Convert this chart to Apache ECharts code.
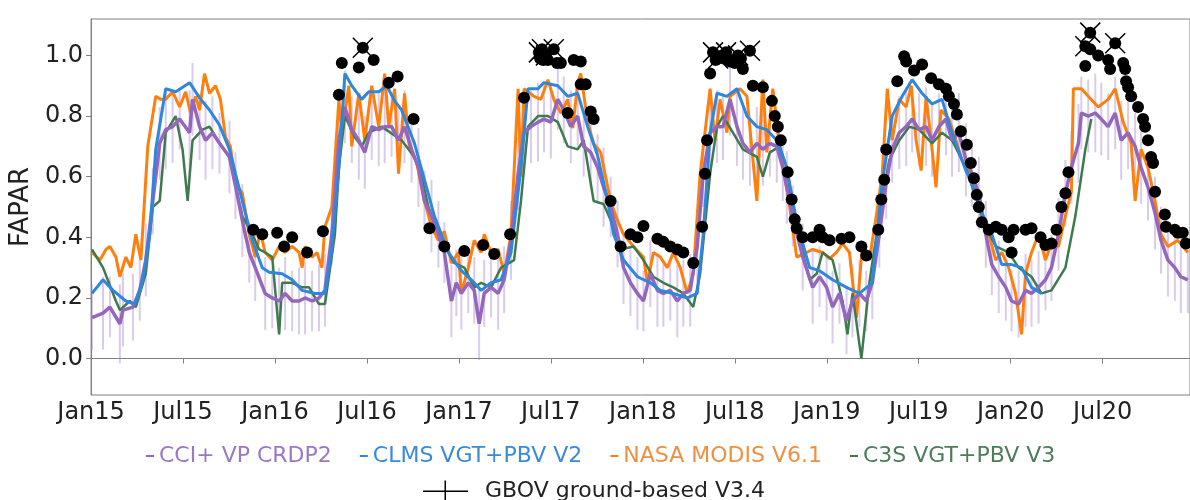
<!DOCTYPE html>
<html>
<head>
<meta charset="utf-8">
<script src="https://cdn.jsdelivr.net/npm/echarts@6/dist/echarts.min.js"></script>
<style>
  html, body { margin: 0; padding: 0; background: #fff; }
  #main { width: 1190px; height: 500px; }
</style>
</head>
<body>
<div id="main"></div>
<script>
// x axis is months since Jan 2015
const xTickMonths = [0, 6, 12, 18, 24, 30, 36, 42, 48, 54, 60, 66];
const xTickLabels = ['Jan15', 'Jul15', 'Jan16', 'Jul16', 'Jan17', 'Jul17', 'Jan18', 'Jul18', 'Jan19', 'Jul19', 'Jan20', 'Jul20'];
const yTicks = [0, 0.2, 0.4, 0.6, 0.8, 1.0];

// CCI+ VP CRDP2 (purple) with its uncertainty
const cciMonth = [
  0.06, 0.78, 1.23, 1.88, 2.08, 2.73, 3.18, 3.57, 4.03, 4.48,
  4.87, 5.32, 5.78, 6.43, 6.62, 7.08, 7.47, 7.92, 8.38, 9.03,
  9.42, 9.87, 10.32, 10.71, 11.36, 11.82, 12.27, 12.66, 13.12, 13.57,
  13.96, 14.42, 14.87, 15.26, 15.71, 16.17, 16.56, 17.01, 17.47, 17.86,
  18.31, 18.77, 19.16, 19.61, 20.06, 20.45, 20.91, 21.36, 21.75, 22.21,
  22.66, 23.05, 23.51, 23.83, 24.16, 24.61, 25.00, 25.32, 25.65, 26.10,
  26.56, 26.95, 27.40, 27.86, 28.25, 28.70, 29.16, 29.55, 30.00, 30.45,
  30.84, 31.30, 31.75, 32.14, 32.60, 33.05, 33.44, 33.90, 34.35, 34.74,
  35.19, 35.65, 36.04, 36.49, 36.95, 37.34, 37.79, 38.25, 38.64, 39.09,
  39.55, 39.94, 40.39, 40.84, 41.23, 41.69, 42.14, 42.53, 42.99, 43.44,
  43.83, 44.29, 44.74, 45.13, 45.39, 45.78, 46.43, 47.08, 47.53, 47.99,
  48.38, 48.83, 49.29, 49.68, 50.13, 50.58, 50.97, 51.43, 51.88, 52.27,
  52.73, 53.18, 53.57, 54.03, 54.48, 54.87, 55.32, 55.78, 56.17, 56.62,
  57.08, 57.47, 57.92, 58.38, 58.77, 59.22, 59.68, 60.06, 60.52, 60.97,
  61.36, 61.82, 62.27, 62.66, 63.12, 63.57, 63.96, 64.42, 64.61, 65.06,
  65.52, 65.91, 66.36, 66.82, 67.21, 67.66, 68.12, 68.51, 68.96, 69.42,
  69.81, 70.26, 70.71, 71.10, 71.56
];
const cciFapar = [
  0.135, 0.15, 0.17, 0.115, 0.16, 0.17, 0.225, 0.325, 0.52, 0.71,
  0.755, 0.765, 0.79, 0.745, 0.855, 0.765, 0.72, 0.745, 0.71, 0.665,
  0.57, 0.455, 0.35, 0.30, 0.215, 0.20, 0.19, 0.215, 0.19, 0.19,
  0.20, 0.19, 0.20, 0.225, 0.41, 0.72, 0.83, 0.755, 0.72, 0.68,
  0.765, 0.755, 0.765, 0.765, 0.72, 0.765, 0.69, 0.63, 0.52, 0.47,
  0.41, 0.35, 0.19, 0.25, 0.215, 0.25, 0.225, 0.115, 0.215, 0.235,
  0.215, 0.26, 0.39, 0.61, 0.745, 0.765, 0.78, 0.79, 0.78, 0.855,
  0.82, 0.765, 0.80, 0.70, 0.68, 0.63, 0.565, 0.50, 0.41, 0.30,
  0.25, 0.215, 0.19, 0.28, 0.225, 0.215, 0.225, 0.19, 0.215, 0.225,
  0.37, 0.61, 0.745, 0.765, 0.765, 0.855, 0.765, 0.71, 0.68, 0.71,
  0.69, 0.71, 0.70, 0.63, 0.565, 0.47, 0.335, 0.235, 0.27, 0.235,
  0.17, 0.215, 0.125, 0.19, 0.215, 0.19, 0.25, 0.41, 0.58, 0.69,
  0.745, 0.765, 0.79, 0.755, 0.765, 0.72, 0.765, 0.79, 0.72, 0.745,
  0.655, 0.61, 0.545, 0.41, 0.31, 0.27, 0.235, 0.19, 0.18, 0.225,
  0.215, 0.235, 0.26, 0.30, 0.41, 0.545, 0.63, 0.71, 0.81, 0.80,
  0.81, 0.79, 0.765, 0.81, 0.72, 0.745, 0.70, 0.63, 0.565, 0.48,
  0.39, 0.325, 0.30, 0.27, 0.26
];
const cciUnc = [
  0.11, 0.12, 0.10, 0.13, 0.12, 0.11, 0.10, 0.12, 0.11, 0.12,
  0.13, 0.12, 0.10, 0.14, 0.12, 0.11, 0.13, 0.12, 0.10, 0.12,
  0.11, 0.12, 0.10, 0.11, 0.12, 0.10, 0.11, 0.12, 0.10, 0.11,
  0.12, 0.10, 0.11, 0.12, 0.10, 0.13, 0.12, 0.11, 0.13, 0.12,
  0.11, 0.12, 0.12, 0.10, 0.11, 0.12, 0.11, 0.13, 0.10, 0.12,
  0.11, 0.10, 0.12, 0.11, 0.12, 0.10, 0.11, 0.12, 0.11, 0.10,
  0.12, 0.11, 0.13, 0.12, 0.11, 0.12, 0.13, 0.11, 0.12, 0.10,
  0.11, 0.12, 0.11, 0.10, 0.12, 0.11, 0.13, 0.10, 0.11, 0.12,
  0.11, 0.12, 0.10, 0.11, 0.12, 0.11, 0.10, 0.12, 0.11, 0.12,
  0.12, 0.11, 0.13, 0.12, 0.11, 0.12, 0.13, 0.12, 0.11, 0.12,
  0.12, 0.11, 0.12, 0.11, 0.12, 0.10, 0.11, 0.12, 0.10, 0.11,
  0.12, 0.10, 0.11, 0.12, 0.11, 0.10, 0.12, 0.11, 0.12, 0.11,
  0.12, 0.13, 0.11, 0.12, 0.13, 0.12, 0.11, 0.12, 0.12, 0.13,
  0.12, 0.11, 0.12, 0.11, 0.10, 0.12, 0.11, 0.10, 0.11, 0.12,
  0.11, 0.12, 0.10, 0.11, 0.12, 0.11, 0.12, 0.13, 0.12, 0.12,
  0.13, 0.12, 0.11, 0.12, 0.13, 0.12, 0.11, 0.12, 0.11, 0.12,
  0.11, 0.12, 0.11, 0.12, 0.11
];

// CLMS VGT+PBV V2 (blue)
const clmsMonth = [
  0.06, 0.78, 1.43, 2.27, 2.86, 3.38, 3.83, 4.22, 4.87, 5.52,
  6.43, 7.08, 7.73, 8.38, 9.03, 9.42, 9.87, 10.52, 11.17, 11.62,
  12.47, 13.12, 13.77, 14.61, 15.26, 15.71, 16.17, 16.56, 17.01, 17.66,
  18.12, 18.77, 19.29, 19.81, 20.26, 21.10, 21.75, 22.40, 23.31, 24.16,
  24.81, 25.45, 26.10, 26.75, 27.40, 28.05, 28.51, 29.16, 29.55, 30.45,
  31.10, 31.75, 32.40, 33.05, 33.70, 34.09, 34.74, 35.65, 36.49, 37.14,
  37.99, 38.90, 39.55, 39.94, 40.39, 40.84, 41.49, 42.14, 42.79, 43.44,
  44.09, 44.74, 45.39, 46.04, 46.88, 47.53, 48.38, 49.29, 50.13, 50.97,
  51.62, 52.27, 52.92, 53.57, 54.22, 54.87, 55.52, 56.17, 57.08, 57.73,
  58.12, 58.77, 59.42, 60.06, 60.71, 61.36, 62.01
];
const clmsFapar = [
  0.215, 0.26, 0.225, 0.19, 0.18, 0.26, 0.41, 0.69, 0.89, 0.88,
  0.91, 0.86, 0.82, 0.77, 0.69, 0.61, 0.52, 0.39, 0.30, 0.285,
  0.28, 0.26, 0.225, 0.215, 0.215, 0.36, 0.63, 0.94, 0.90, 0.855,
  0.88, 0.88, 0.90, 0.85, 0.82, 0.71, 0.59, 0.47, 0.35, 0.29,
  0.26, 0.225, 0.25, 0.26, 0.35, 0.63, 0.89, 0.89, 0.91, 0.90,
  0.865, 0.875, 0.765, 0.67, 0.52, 0.41, 0.325, 0.27, 0.25, 0.225,
  0.215, 0.20, 0.215, 0.41, 0.745, 0.875, 0.865, 0.89, 0.80, 0.765,
  0.755, 0.72, 0.63, 0.45, 0.30, 0.29, 0.26, 0.235, 0.215, 0.25,
  0.58, 0.80, 0.865, 0.92, 0.875, 0.84, 0.855, 0.745, 0.62, 0.545,
  0.48, 0.41, 0.31, 0.31, 0.30, 0.235, 0.215
];

// NASA MODIS V6.1 (orange)
const modisMonth = [
  0.06, 0.58, 0.97, 1.23, 1.62, 1.88, 2.27, 2.60, 2.92, 3.25,
  3.70, 4.22, 4.55, 4.87, 5.32, 5.78, 6.17, 6.49, 6.82, 7.08,
  7.40, 7.73, 8.12, 8.44, 8.77, 9.09, 9.42, 9.87, 10.32, 10.71,
  11.04, 11.36, 11.82, 12.27, 12.66, 13.12, 13.57, 13.77, 13.96, 14.42,
  14.74, 15.06, 15.26, 15.71, 16.17, 16.36, 16.82, 17.01, 17.47, 17.86,
  18.31, 18.77, 19.16, 19.42, 19.81, 20.06, 20.45, 20.78, 21.23, 21.75,
  22.21, 22.66, 23.05, 23.51, 23.96, 24.16, 24.61, 25.00, 25.45, 25.65,
  26.10, 26.56, 26.95, 27.40, 27.86, 28.05, 28.25, 28.90, 29.35, 29.81,
  30.19, 30.65, 31.10, 31.43, 31.75, 31.95, 32.40, 32.79, 33.25, 33.57,
  33.90, 34.35, 34.74, 35.39, 36.04, 36.30, 36.69, 37.14, 37.60, 37.99,
  38.44, 38.90, 39.29, 39.74, 40.39, 40.71, 41.04, 41.49, 41.69, 42.34,
  42.79, 43.44, 43.83, 44.09, 44.48, 44.94, 45.58, 46.04, 46.69, 47.08,
  47.73, 48.18, 48.64, 49.03, 49.48, 49.94, 50.32, 50.78, 51.23, 51.62,
  51.95, 52.27, 52.73, 53.18, 53.51, 53.83, 54.16, 54.48, 54.81, 55.13,
  55.45, 55.97, 56.43, 56.82, 57.27, 57.73, 58.12, 58.57, 59.03, 59.42,
  59.87, 60.32, 60.71, 60.97, 61.36, 61.82, 62.27, 62.66, 63.12, 63.57,
  63.96, 64.09, 64.61, 65.06, 65.71, 66.36, 66.82, 67.34, 67.86, 68.12,
  68.51, 68.96, 69.42, 69.81, 70.26, 70.91, 71.56
];
const modisFapar = [
  0.35, 0.325, 0.36, 0.37, 0.335, 0.27, 0.335, 0.30, 0.41, 0.325,
  0.70, 0.865, 0.855, 0.855, 0.88, 0.83, 0.88, 0.81, 0.865, 0.82,
  0.94, 0.875, 0.90, 0.855, 0.73, 0.70, 0.58, 0.545, 0.41, 0.335,
  0.42, 0.35, 0.325, 0.37, 0.35, 0.37, 0.35, 0.30, 0.37, 0.335,
  0.35, 0.30, 0.435, 0.50, 0.855, 0.745, 0.90, 0.70, 0.875, 0.72,
  0.90, 0.765, 0.94, 0.765, 0.89, 0.61, 0.875, 0.69, 0.65, 0.52,
  0.435, 0.39, 0.42, 0.315, 0.35, 0.215, 0.30, 0.39, 0.35, 0.41,
  0.35, 0.36, 0.28, 0.41, 0.89, 0.60, 0.89, 0.865, 0.855, 0.92,
  0.855, 0.81, 0.855, 0.76, 0.91, 0.94, 0.78, 0.71, 0.68, 0.60,
  0.52, 0.455, 0.41, 0.37, 0.335, 0.25, 0.35, 0.335, 0.30, 0.35,
  0.30, 0.215, 0.28, 0.61, 0.89, 0.72, 0.855, 0.745, 0.865, 0.89,
  0.865, 0.52, 0.92, 0.68, 0.89, 0.70, 0.50, 0.335, 0.35, 0.36,
  0.35, 0.33, 0.35, 0.38, 0.35, 0.135, 0.37, 0.325, 0.47, 0.61,
  0.89, 0.72, 0.855, 0.83, 0.90, 0.72, 0.62, 0.865, 0.72, 0.565,
  0.82, 0.79, 0.72, 0.655, 0.61, 0.565, 0.455, 0.41, 0.325, 0.35,
  0.30, 0.215, 0.08, 0.28, 0.35, 0.41, 0.325, 0.38, 0.37, 0.47,
  0.55, 0.89, 0.89, 0.865, 0.83, 0.855, 0.89, 0.78, 0.71, 0.52,
  0.69, 0.63, 0.52, 0.41, 0.37, 0.39, 0.35
];

// C3S VGT+PBV V3 (green)
const c3sMonth = [
  0.06, 0.78, 1.62, 1.88, 2.53, 2.92, 3.57, 4.03, 4.48, 4.87,
  5.52, 5.97, 6.30, 6.62, 7.27, 7.73, 8.38, 9.03, 9.42, 9.87,
  10.52, 10.97, 11.36, 11.82, 12.27, 12.47, 13.12, 13.77, 14.22, 14.87,
  15.26, 15.91, 16.17, 16.56, 17.21, 17.66, 18.12, 18.96, 20.26, 21.10,
  21.56, 22.01, 22.86, 23.70, 24.35, 25.00, 25.45, 26.10, 26.75, 27.60,
  28.05, 28.51, 29.16, 29.81, 30.45, 31.10, 31.75, 32.14, 32.79, 33.44,
  34.09, 34.55, 35.39, 36.04, 36.69, 37.34, 37.99, 38.64, 39.29, 39.74,
  40.39, 40.84, 41.23, 41.88, 42.53, 43.44, 43.83, 44.29, 44.94, 45.39,
  45.78, 46.23, 46.88, 47.34, 47.73, 48.38, 49.03, 49.35, 49.68, 50.26,
  50.78, 51.43, 52.08, 52.73, 53.38, 54.03, 54.87, 55.52, 56.17, 57.08,
  57.73, 58.38, 59.03, 59.87, 60.52, 61.36, 62.01, 62.66, 63.57, 64.22,
  64.87, 65.26
];
const c3sFapar = [
  0.36, 0.30, 0.19, 0.16, 0.19, 0.17, 0.28, 0.50, 0.52, 0.745,
  0.80, 0.69, 0.52, 0.72, 0.755, 0.765, 0.71, 0.665, 0.57, 0.47,
  0.41, 0.36, 0.35, 0.335, 0.08, 0.25, 0.25, 0.235, 0.235, 0.18,
  0.18, 0.41, 0.63, 0.80, 0.73, 0.70, 0.745, 0.765, 0.72, 0.665,
  0.60, 0.50, 0.39, 0.315, 0.30, 0.235, 0.25, 0.235, 0.30, 0.325,
  0.52, 0.765, 0.80, 0.80, 0.78, 0.70, 0.69, 0.72, 0.52, 0.51,
  0.435, 0.36, 0.37, 0.325, 0.27, 0.25, 0.235, 0.215, 0.17, 0.28,
  0.61, 0.765, 0.80, 0.745, 0.69, 0.665, 0.60, 0.68, 0.70, 0.63,
  0.48, 0.39, 0.26, 0.28, 0.35, 0.325, 0.19, 0.08, 0.215, 0.0,
  0.25, 0.47, 0.655, 0.72, 0.765, 0.755, 0.71, 0.745, 0.72, 0.63,
  0.53, 0.435, 0.37, 0.35, 0.30, 0.27, 0.215, 0.225, 0.30, 0.47,
  0.69, 0.79
];

// GBOV ground-based V3.4 (black dots)
const gbovMonth = [
  10.58, 11.17, 12.14, 12.60, 13.12, 14.09, 15.13, 16.17, 16.36, 17.47,
  18.44, 19.42, 20.00, 21.04, 22.08, 23.05, 24.35, 25.58, 26.30, 27.34,
  28.25, 29.30, 29.50, 29.81, 30.40, 30.65, 31.10, 31.49, 31.95, 31.95,
  32.27, 32.60, 32.79, 33.90, 34.55, 35.19, 35.65, 36.04, 36.95, 37.34,
  37.79, 38.25, 38.64, 39.29, 39.87, 40.06, 40.19, 40.39, 40.75, 41.05,
  41.17, 41.30, 41.69, 41.88, 42.00, 42.40, 42.53, 43.18, 43.83, 44.42,
  44.61, 44.81, 45.00, 45.45, 45.71, 45.91, 46.04, 46.43, 47.08, 47.53,
  47.73, 48.18, 48.96, 49.48, 50.26, 50.58, 51.36, 51.56, 51.75, 51.88,
  52.60, 53.05, 53.18, 53.70, 54.22, 54.81, 55.32, 55.78, 55.97, 56.30,
  56.49, 56.75, 57.14, 57.40, 57.60, 57.79, 57.92, 58.12, 58.57, 59.03,
  59.42, 59.87, 60.06, 60.19, 60.97, 61.36, 61.95, 62.27, 62.66, 62.99,
  63.31, 63.57, 63.77, 64.87, 65.19, 65.71, 66.36, 66.49, 67.34, 67.47,
  67.53, 67.66, 67.86, 68.31, 68.64, 68.77, 68.96, 69.16, 69.29, 69.42,
  70.06, 70.13, 70.71, 70.91, 71.23, 71.43
];
const gbovFapar = [
  0.425, 0.41, 0.415, 0.37, 0.40, 0.35, 0.42, 0.87, 0.975, 0.96,
  0.985, 0.91, 0.93, 0.79, 0.43, 0.37, 0.355, 0.375, 0.345, 0.41,
  0.86, 0.99, 0.985, 0.985, 0.975, 0.975, 0.81, 0.985, 0.98, 0.905,
  0.905, 0.815, 0.79, 0.52, 0.37, 0.41, 0.40, 0.437, 0.395, 0.385,
  0.37, 0.36, 0.35, 0.315, 0.435, 0.61, 0.72, 0.94, 0.985, 0.995,
  1.00, 0.99, 0.98, 0.985, 0.975, 0.99, 0.955, 0.90, 0.895, 0.85,
  0.80, 0.765, 0.72, 0.615, 0.525, 0.46, 0.43, 0.40, 0.40, 0.425,
  0.40, 0.39, 0.395, 0.40, 0.37, 0.34, 0.425, 0.525, 0.59, 0.69,
  0.915, 0.997, 0.98, 0.95, 0.97, 0.925, 0.905, 0.89, 0.865, 0.84,
  0.805, 0.75, 0.705, 0.645, 0.595, 0.54, 0.50, 0.45, 0.425, 0.435,
  0.425, 0.40, 0.35, 0.425, 0.425, 0.43, 0.40, 0.375, 0.38, 0.425,
  0.50, 0.545, 0.615, 0.965, 1.02, 1.00, 0.985, 0.955, 0.975, 0.955,
  0.915, 0.895, 0.865, 0.83, 0.79, 0.765, 0.72, 0.665, 0.645, 0.55,
  0.475, 0.435, 0.425, 0.415, 0.415, 0.38
];
// GBOV points drawn with the crossed error caps
const gbovCapMonth = [17.73, 29.22, 29.42, 29.68, 30.19, 40.58, 40.91, 41.43, 42.21, 42.99, 64.87, 65.19, 66.82];
const gbovCapFapar = [1.025, 1.01, 1.02, 1.00, 1.02, 1.01, 0.99, 1.01, 1.00, 1.015, 1.03, 1.075, 1.04];

const COLORS = {
  cci: '#9467bd',
  clms: '#2f86dd',
  modis: '#ff7f0e',
  c3s: '#3d7a4c'
};
const FONT = 'DejaVu Sans';

function pairs(xs, ys) {
  return xs.map((x, i) => [x, ys[i]]);
}

const chart = echarts.init(document.getElementById('main'), null, { renderer: 'canvas' });

const option = {
  animation: false,
  backgroundColor: '#fff',
  grid: {
    left: 88, top: 19, right: -2, bottom: 105,
    show: true, borderColor: '#808080', borderWidth: 1
  },
  legend: [
    {
      left: 141, top: 440,
      itemGap: 28, itemWidth: 8, itemHeight: 2,
      selectedMode: false,
      textStyle: { fontFamily: FONT, fontSize: 22 },
      data: [
        { name: 'CCI+ VP CRDP2', icon: 'rect', textStyle: { color: '#9a78c4' } },
        { name: 'CLMS VGT+PBV V2', icon: 'rect', textStyle: { color: '#3a8ad8' } },
        { name: 'NASA MODIS V6.1', icon: 'rect', textStyle: { color: '#ee9040' } },
        { name: 'C3S VGT+PBV V3', icon: 'rect', textStyle: { color: '#4c7d5a' } }
      ]
    },
    {
      left: 418, top: 475,
      itemWidth: 45, itemHeight: 21,
      selectedMode: false,
      textStyle: { fontFamily: FONT, fontSize: 22, color: '#222', padding: [0, 0, 0, 12] },
      data: [
        { name: 'GBOV ground-based V3.4', icon: 'path://M0,10H45V11.5H0Z M21.5,0H23V21H21.5Z' }
      ]
    }
  ],
  xAxis: {
    type: 'value',
    min: 0, max: 71.7,
    axisLine: { lineStyle: { color: '#808080', width: 1 } },
    axisTick: { show: true, length: 5, customValues: xTickMonths, lineStyle: { color: '#808080' } },
    axisLabel: {
      customValues: xTickMonths,
      formatter: v => xTickLabels[xTickMonths.indexOf(v)],
      fontFamily: FONT, fontSize: 24, color: '#222', margin: 6
    },
    splitLine: { show: false }
  },
  yAxis: {
    type: 'value',
    min: -0.12, max: 1.12,
    name: 'FAPAR',
    nameLocation: 'middle',
    nameGap: 43,
    nameTextStyle: { fontFamily: FONT, fontSize: 26, color: '#222' },
    axisLine: { show: true, lineStyle: { color: '#808080', width: 1 } },
    axisTick: { show: true, length: 5, customValues: yTicks, lineStyle: { color: '#808080' } },
    axisLabel: {
      customValues: yTicks,
      formatter: v => v.toFixed(1),
      fontFamily: FONT, fontSize: 24, color: '#222', margin: 8
    },
    splitLine: { show: false }
  },
  series: [
    {
      name: 'cci-uncertainty',
      type: 'custom',
      clip: true,
      silent: true,
      z: 1,
      data: cciMonth.map((m, i) => [m, cciFapar[i] - cciUnc[i], cciFapar[i] + cciUnc[i]]),
      encode: { x: 0, y: [1, 2] },
      renderItem: (params, api) => {
        const lo = api.coord([api.value(0), api.value(1)]);
        const hi = api.coord([api.value(0), api.value(2)]);
        return {
          type: 'line',
          shape: { x1: lo[0], y1: lo[1], x2: hi[0], y2: hi[1] },
          style: { stroke: 'rgba(160,125,205,0.4)', lineWidth: 2 }
        };
      }
    },
    {
      name: 'NASA MODIS V6.1',
      type: 'line', z: 2,
      data: pairs(modisMonth, modisFapar),
      showSymbol: false, symbol: 'none',
      itemStyle: { color: COLORS.modis },
      lineStyle: { color: COLORS.modis, width: 3 }
    },
    {
      name: 'C3S VGT+PBV V3',
      type: 'line', z: 3,
      data: pairs(c3sMonth, c3sFapar),
      showSymbol: false, symbol: 'none',
      itemStyle: { color: COLORS.c3s },
      lineStyle: { color: COLORS.c3s, width: 2.5 }
    },
    {
      name: 'CCI+ VP CRDP2',
      type: 'line', z: 4,
      data: pairs(cciMonth, cciFapar),
      showSymbol: false, symbol: 'none',
      itemStyle: { color: COLORS.cci },
      lineStyle: { color: COLORS.cci, width: 3.5 }
    },
    {
      name: 'CLMS VGT+PBV V2',
      type: 'line', z: 5,
      data: pairs(clmsMonth, clmsFapar),
      showSymbol: false, symbol: 'none',
      itemStyle: { color: COLORS.clms },
      lineStyle: { color: COLORS.clms, width: 3 }
    },
    {
      name: 'gbov-caps',
      type: 'scatter', z: 6,
      silent: true,
      data: pairs(gbovCapMonth, gbovCapFapar),
      symbol: 'path://M0,0L20,20M20,0L0,20',
      symbolSize: 20,
      itemStyle: { color: 'none', borderColor: '#000', borderWidth: 1.5, opacity: 1 }
    },
    {
      name: 'GBOV ground-based V3.4',
      type: 'scatter', z: 7,
      data: pairs(gbovMonth.concat(gbovCapMonth), gbovFapar.concat(gbovCapFapar)),
      symbol: 'circle',
      symbolSize: 12,
      itemStyle: { color: '#000', opacity: 1 }
    }
  ]
};

chart.setOption(option);
</script>
</body>
</html>
